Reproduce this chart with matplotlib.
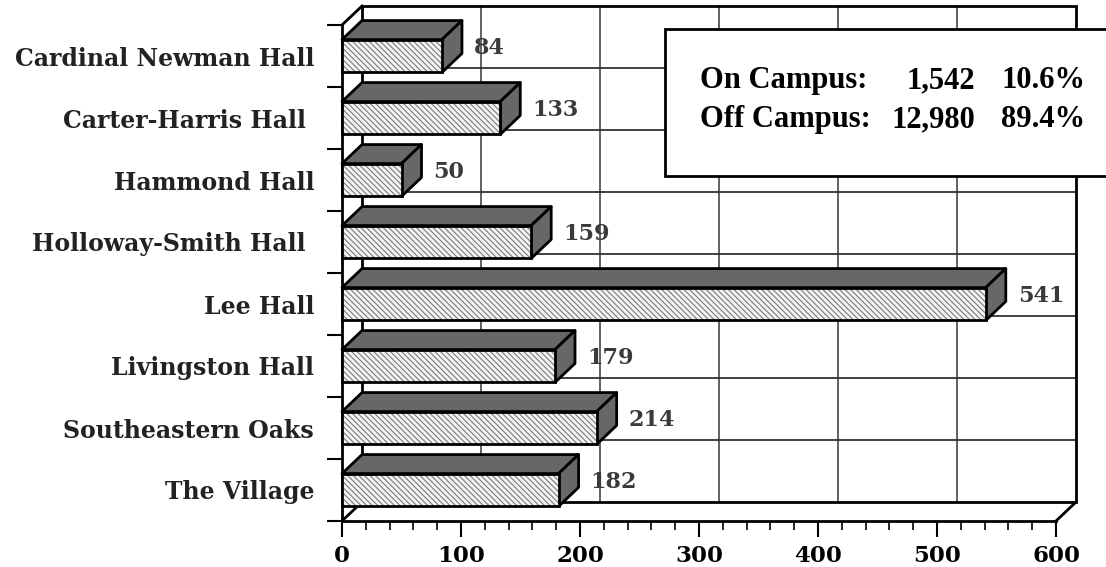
import matplotlib
matplotlib.use('Agg')
import matplotlib.pyplot as plt
from matplotlib.patches import Rectangle, Polygon
from matplotlib.ticker import MultipleLocator, FixedLocator

# data
halls = ['Cardinal Newman Hall', 'Carter-Harris Hall ', 'Hammond Hall',
         'Holloway-Smith Hall ', 'Lee Hall', 'Livingston Hall',
         'Southeastern Oaks', 'The Village']
residents = [84, 133, 50, 159, 541, 179, 214, 182]

campus_labels = ['On Campus:', 'Off Campus:']
campus_counts = [1542, 12980]
campus_pcts = [10.6, 89.4]

x_max = 600

plt.rcParams['font.family'] = 'DejaVu Serif'
plt.rcParams['hatch.linewidth'] = 0.8

fig = plt.figure(figsize=(11.06, 5.67), dpi=100)
ax = fig.add_axes([342 / 1106, 46 / 567, 714 / 1106, 496 / 567])
n = len(halls)
ax.set_xlim(0, x_max)
ax.set_ylim(n - 0.5, -0.5)

# depth of the fake 3d look, in data units (about 20 px right, 19 px up)
DX = 20 * x_max / 714
DY = 19 * n / 496
BAR_H = 0.53

lo, hi = -0.5, n - 0.5

# back wall with grid
wall_kw = dict(clip_on=False, zorder=1)
for v in range(100, x_max, 100):
    ax.plot([v + DX, v + DX], [lo - DY, hi - DY], color='#555555', lw=1.3, **wall_kw)
for b in range(1, n):
    yb = b - 0.5 - DY
    ax.plot([DX, x_max + DX], [yb, yb], color='#333333', lw=1.3, **wall_kw)
ax.add_patch(Rectangle((DX, lo - DY), x_max, n, fill=False, edgecolor='black',
                       lw=2, **wall_kw))
# corner diagonals
for x0, y0 in [(0, lo), (0, hi), (x_max, hi)]:
    ax.plot([x0, x0 + DX], [y0, y0 - DY], color='black', lw=2, **wall_kw)

# bars
for i, v in enumerate(residents):
    top = i - BAR_H / 2
    bot = i + BAR_H / 2
    ax.add_patch(Polygon([(0, top), (v, top), (v + DX, top - DY), (DX, top - DY)],
                         closed=True, facecolor='#676767', edgecolor='black',
                         lw=2, joinstyle='round', clip_on=False, zorder=3))
    ax.add_patch(Polygon([(v, top), (v + DX, top - DY), (v + DX, bot - DY), (v, bot)],
                         closed=True, facecolor='#676767', edgecolor='black',
                         lw=2, joinstyle='round', clip_on=False, zorder=3))
    ax.add_patch(Rectangle((0, top), v, BAR_H, facecolor='#f4f4f4', edgecolor='#7a7a7a',
                           lw=0, hatch='\\\\\\\\\\\\', clip_on=False, zorder=3))
    ax.add_patch(Rectangle((0, top), v, BAR_H, fill=False, edgecolor='black',
                           lw=2, clip_on=False, zorder=4))
    ax.text(v + DX + 10, i - 0.13, str(v), ha='left', va='center',
            fontsize=16, fontweight='bold', color='#3a3a3a', zorder=5)

# axes
for s in ['top', 'right']:
    ax.spines[s].set_visible(False)
for s in ['left', 'bottom']:
    ax.spines[s].set_linewidth(2)
    ax.spines[s].set_zorder(2)

ax.xaxis.set_major_locator(MultipleLocator(100))
ax.xaxis.set_minor_locator(MultipleLocator(20))
ax.tick_params(axis='x', which='major', length=11.5, width=1.5, pad=6,
               labelsize=16.5)
ax.tick_params(axis='x', which='minor', length=6.5, width=1.2)
for lab in ax.get_xticklabels():
    lab.set_fontweight('bold')

ax.set_yticks(range(n))
ax.set_yticklabels(halls, fontsize=17, fontweight='bold', color='#222222')
ax.yaxis.set_minor_locator(FixedLocator([b - 0.5 for b in range(n + 1)]))
ax.tick_params(axis='y', which='major', length=0, pad=20)
ax.tick_params(axis='y', which='minor', length=11, width=1.5)

# summary box
fig.patches.append(Rectangle((665 / 1106, 1 - 176 / 567), 0.45, 147 / 567,
                             transform=fig.transFigure, facecolor='white',
                             edgecolor='black', lw=2, zorder=10))
baselines = [1 - 88 / 567, 1 - 127 / 567]
for lab, cnt, pct, yb in zip(campus_labels, campus_counts, campus_pcts, baselines):
    kw = dict(fontsize=22, fontweight='bold', family='Liberation Serif',
              va='baseline', transform=fig.transFigure, zorder=11)
    fig.text(700 / 1106, yb, lab, ha='left', **kw)
    fig.text(975 / 1106, yb, f'{cnt:,}', ha='right', **kw)
    fig.text(1085 / 1106, yb, f'{pct:.1f}%', ha='right', **kw)

fig.savefig('out.png', dpi=100)
